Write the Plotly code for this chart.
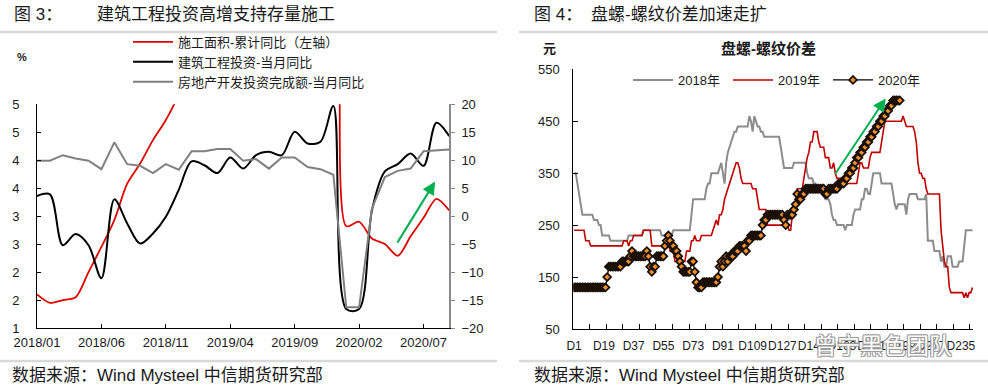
import plotly.graph_objects as go

W, H = 988, 390
def px(x): return x / W
def py(y): return 1 - y / H

CJK = "Liberation Sans, Noto Sans CJK SC"
TXT = "#1a1a1a"

# ---------------- Figure 3 data (monthly) ----------------
months = ["2018/01", "2018/02", "2018/03", "2018/04", "2018/05", "2018/06", "2018/07", "2018/08",
          "2018/09", "2018/10", "2018/11", "2018/12", "2019/01", "2019/02", "2019/03", "2019/04",
          "2019/05", "2019/06", "2019/07", "2019/08", "2019/09", "2019/10", "2019/11", "2019/12",
          "2020/01", "2020/02", "2020/03", "2020/04", "2020/05", "2020/06", "2020/07", "2020/08",
          "2020/09"]
month_ticks = ["2018/01", "2018/06", "2018/11", "2019/04", "2019/09", "2020/02", "2020/07"]

# 施工面积-累计同比 (left axis)
floor_area_cum = [1.60, 1.45, 1.50, 1.55, 2.00, 2.45, 2.93, 3.58, 3.94, 4.36, 4.72, 5.20,
                  6.80, 6.80, 8.20, 8.80, 8.80, 8.80, 9.00, 8.80, 8.70, 9.00, 8.70, 8.70,
                  2.82, 2.90, 2.60, 2.50, 2.29, 2.64, 2.97, 3.31, 3.10]
# 建筑工程投资-当月同比 (right axis)
construction_inv = [3.6, 3.9, -5.2, -3.2, -5.2, -11.1, 3.0, -1.3, -4.9, -3.1, -0.1, 4.7,
                    9.8, 9.1, 7.7, 10.5, 8.5, 10.9, 11.5, 10.9, 15.1, 13.0, 13.3, 19.7,
                    -16.6, -16.6, 1.1, 8.0, 9.3, 11.2, 9.0, 16.7, 14.3]
# 房地产开发投资完成额-当月同比 (right axis)
re_inv = [9.9, 9.9, 10.9, 10.3, 9.9, 8.4, 13.2, 9.3, 9.0, 7.7, 9.3, 8.3,
          11.6, 11.6, 12.0, 12.0, 9.9, 10.2, 8.5, 10.5, 10.5, 8.8, 8.4, 7.4,
          -16.3, -16.3, 1.4, 7.0, 8.1, 8.5, 11.6, 11.8, 11.9]

left_tickvals = [1, 1.5, 2, 2.5, 3, 3.5, 4, 4.5, 5]
left_ticktext = ["1", "2", "2", "3", "3", "4", "4", "5", "5"]

# ---------------- Figure 4 data (daily, 元) ----------------
spread_2018 = [
    350, 350, 330, 310, 290, 270, 270, 270, 270, 270, 270, 270, 260, 260, 260, 250, 250, 230, 230, 230,
    230, 230, 220, 220, 220, 220, 220, 220, 220, 220, 220, 220, 220, 230, 230, 230, 230, 230, 230, 230,
    230, 230, 240, 240, 240, 240, 240, 240, 240, 240, 240, 240, 240, 230, 230, 230, 230, 230, 230, 230,
    240, 240, 240, 240, 240, 240, 240, 240, 240, 240, 240, 270, 300, 300, 300, 300, 300, 300, 300, 300,
    320, 330, 330, 350, 350, 350, 350, 350, 360, 370, 350, 330, 370, 390, 400, 410, 420, 430, 430, 440,
    440, 440, 440, 440, 440, 440, 460, 450, 430, 460, 450, 440, 440, 430, 430, 420, 420, 420, 420, 420,
    420, 420, 420, 420, 420, 400, 380, 360, 360, 360, 360, 360, 360, 370, 370, 370, 370, 370, 370, 370,
    370, 350, 340, 340, 340, 330, 330, 320, 320, 320, 310, 310, 300, 300, 300, 290, 270, 260, 260, 250,
    250, 250, 250, 250, 240, 250, 250, 250, 250, 270, 280, 280, 280, 280, 300, 300, 320, 320, 310, 310,
    330, 350, 350, 350, 350, 350, 330, 330, 330, 330, 330, 330, 330, 310, 290, 280, 290, 290, 290, 290,
    290, 270, 300, 310, 310, 310, 310, 310, 300, 300, 300, 300, 300, 310, 220, 220, 220, 220, 200, 200,
    200, 200, 180, 190, 170, 170, 190, 190, 190, 170, 170, 170, 170, 180, 180, 180, 210, 240, 240, 240,
    240, 240]
spread_2019 = [
    240, 240, 240, 240, 240, 240, 240, 220, 220, 220, 210, 210, 210, 210, 210, 210, 210, 210, 210, 210,
    210, 210, 210, 210, 210, 210, 210, 210, 210, 210, 220, 220, 220, 210, 220, 220, 230, 230, 230, 230,
    230, 230, 240, 240, 240, 240, 240, 210, 210, 210, 210, 210, 210, 210, 210, 220, 220, 220, 200, 200,
    200, 180, 180, 180, 180, 180, 180, 180, 200, 200, 200, 220, 220, 230, 220, 220, 220, 230, 230, 230,
    230, 230, 230, 230, 240, 250, 260, 250, 270, 270, 280, 300, 310, 320, 330, 340, 350, 360, 370, 370,
    360, 340, 330, 330, 330, 330, 330, 330, 320, 320, 320, 300, 280, 280, 280, 280, 280, 250, 250, 250,
    250, 250, 250, 250, 250, 250, 250, 250, 250, 250, 240, 240, 270, 280, 290, 320, 320, 320, 320, 340,
    360, 380, 390, 410, 410, 430, 430, 430, 410, 400, 400, 400, 380, 380, 380, 360, 360, 370, 350, 340,
    340, 340, 340, 340, 330, 330, 330, 330, 330, 330, 330, 330, 350, 370, 370, 360, 360, 360, 360, 380,
    390, 390, 390, 390, 390, 390, 410, 430, 450, 450, 450, 450, 450, 450, 450, 450, 450, 450, 450, 460,
    450, 440, 440, 440, 440, 440, 430, 410, 370, 350, 350, 340, 340, 320, 310, 310, 310, 310, 310, 310,
    310, 310, 240, 210, 180, 170, 170, 130, 120, 120, 120, 120, 120, 120, 120, 120, 110, 120, 110, 120,
    120, 130]
spread_2020 = [
    130, 130, 130, 130, 130, 130, 130, 130, 130, 130, 130, 130, 130, 130, 130, 130, 130, 130, 130, 130,
    150, 170, 170, 170, 170, 170, 170, 170, 170, 180, 180, 180, 180, 180, 190, 200, 190, 190, 190, 190,
    190, 190, 190, 190, 200, 190, 170, 160, 170, 170, 190, 190, 190, 190, 190, 210, 220, 230, 220, 210,
    210, 200, 200, 190, 180, 170, 160, 160, 160, 160, 160, 180, 180, 160, 140, 130, 130, 130, 140, 140,
    140, 140, 140, 140, 140, 140, 140, 150, 170, 180, 170, 180, 190, 180, 190, 190, 190, 200, 200, 200,
    210, 210, 210, 210, 200, 220, 220, 230, 230, 230, 230, 230, 230, 230, 250, 260, 260, 270, 270, 270,
    270, 270, 270, 270, 270, 270, 270, 260, 250, 270, 270, 270, 270, 280, 290, 310, 300, 300, 310, 310,
    320, 320, 320, 320, 320, 320, 320, 320, 320, 320, 320, 320, 310, 310, 320, 320, 320, 320, 320, 320,
    330, 330, 330, 330, 340, 340, 350, 350, 360, 360, 370, 380, 380, 390, 390, 400, 400, 410, 410, 420,
    420, 430, 430, 440, 440, 450, 450, 460, 460, 470, 470, 480, 480, 490, 490, 490, 490, 490]
day_tickvals = [1, 19, 37, 55, 73, 91, 109, 127, 145, 163, 181, 199, 217, 235]
day_ticktext = ["D1", "D19", "D37", "D55", "D73", "D91", "D109", "D127", "D145", "D163",
                "D181", "D199", "D217", "D235"]

fig = go.Figure()

# ---- Figure 3 traces ----
fig.add_trace(go.Scatter(x=months, y=floor_area_cum, name="施工面积-累计同比（左轴）", mode="lines",
                         line=dict(color="#E00000", width=1.8, shape="spline", smoothing=0.8),
                         xaxis="x", yaxis="y", legend="legend", hoverinfo="skip"))
fig.add_trace(go.Scatter(x=months, y=construction_inv, name="建筑工程投资-当月同比", mode="lines",
                         line=dict(color="#000000", width=2, shape="spline", smoothing=0.9),
                         xaxis="x", yaxis="y2", legend="legend", hoverinfo="skip"))
fig.add_trace(go.Scatter(x=months, y=re_inv, name="房地产开发投资完成额-当月同比", mode="lines",
                         line=dict(color="#808080", width=2),
                         xaxis="x", yaxis="y2", legend="legend", hoverinfo="skip"))

# ---- Figure 4 traces ----
def days_of(s):
    return list(range(1, len(s) + 1))

fig.add_trace(go.Scatter(x=days_of(spread_2018), y=spread_2018, name="2018年", mode="lines",
                         line=dict(color="#8C8C8C", width=2),
                         xaxis="x2", yaxis="y3", legend="legend2", hoverinfo="skip"))
fig.add_trace(go.Scatter(x=days_of(spread_2019), y=spread_2019, name="2019年", mode="lines",
                         line=dict(color="#C00000", width=1.6),
                         xaxis="x2", yaxis="y3", legend="legend2", hoverinfo="skip"))
fig.add_trace(go.Scatter(x=days_of(spread_2020), y=spread_2020, name="2020年", mode="lines+markers",
                         line=dict(color="#000000", width=1.3),
                         marker=dict(symbol="diamond", size=6, color="#F0902A",
                                     line=dict(color="#1a1008", width=1.8)),
                         xaxis="x2", yaxis="y3", legend="legend2", hoverinfo="skip"))

axis_font = dict(family="Liberation Sans", size=13, color=TXT)

fig.update_layout(
    width=W, height=H, margin=dict(l=0, r=0, t=0, b=0, pad=0, autoexpand=False),
    paper_bgcolor="white", plot_bgcolor="white",
    showlegend=True,
    xaxis=dict(domain=[px(37), px(449.3)], anchor="y", type="category", range=[0, 32],
               tickvals=month_ticks, ticks="inside", ticklen=4, tickcolor="black",
               showline=True, linecolor="black", linewidth=1, showgrid=False, zeroline=False,
               tickfont=axis_font, ticklabelstandoff=2, automargin=False, tickangle=0),
    yaxis=dict(domain=[py(328), py(104.3)], anchor="x", range=[1, 5],
               tickvals=left_tickvals, ticktext=left_ticktext, ticks="inside", ticklen=4,
               tickcolor="black", showline=True, linecolor="black", linewidth=1,
               showgrid=False, zeroline=False, tickfont=axis_font, ticklabelstandoff=14,
               automargin=False),
    yaxis2=dict(overlaying="y", side="right", anchor="x", range=[-20, 20], tick0=-20, dtick=5,
                ticks="outside", ticklen=4, tickcolor="#8a8a8a", showline=True,
                linecolor="#8a8a8a", linewidth=1.5, showgrid=False, zeroline=False,
                tickfont=axis_font, ticklabelstandoff=4, automargin=False),
    xaxis2=dict(domain=[px(573.3), px(973.3)], anchor="y3", range=[0.5, 242.5],
                tickvals=day_tickvals, ticktext=day_ticktext, ticks="inside", ticklen=0,
                minor=dict(tick0=0.5, dtick=10, ticks="inside", ticklen=5, tickcolor="black"),
                showline=True, linecolor="black", linewidth=1, showgrid=False, zeroline=False,
                tickfont=dict(family="Liberation Sans", size=12, color=TXT), ticklabelstandoff=6,
                tickangle=0, automargin=False),
    yaxis3=dict(domain=[py(329), py(69.3)], anchor="x2", range=[50, 550], tick0=50, dtick=100,
                ticks="inside", ticklen=5, tickcolor="black", showline=True, linecolor="black",
                linewidth=1, showgrid=False, zeroline=False, tickfont=axis_font,
                ticklabelstandoff=10, automargin=False),
    legend=dict(x=px(128), y=py(27), xanchor="left", yanchor="top", orientation="v",
                font=dict(family=CJK, size=13, color=TXT), bgcolor="rgba(0,0,0,0)",
                tracegroupgap=0, itemwidth=40),
    legend2=dict(x=px(628), y=py(65), xanchor="left", yanchor="top", orientation="h",
                 font=dict(family=CJK, size=13, color=TXT), bgcolor="rgba(0,0,0,0)",
                 entrywidth=45, entrywidthmode="pixels", itemwidth=40),
)

anns = []
def text(x, y, s, size=13, color=TXT, xanchor="left", bold=False, family=CJK, **kw):
    anns.append(dict(x=px(x), y=py(y), xref="paper", yref="paper", text=(f"<b>{s}</b>" if bold else s),
                     showarrow=False, xanchor=xanchor, yanchor="middle",
                     font=dict(family=family, size=size, color=color), **kw))

text(12, 15, "图 3：", size=17)
text(95, 15, "建筑工程投资高增支持存量施工", size=17)
text(532, 15, "图 4：", size=17)
text(589, 15, "盘螺-螺纹价差加速走扩", size=17)
text(10, 375, "数据来源：Wind Mysteel 中信期货研究部", size=17)
text(532, 375, "数据来源：Wind Mysteel 中信期货研究部", size=17)
text(22, 57, "%", size=11, bold=True, xanchor="center")
text(549, 48, "元", size=13, bold=True, xanchor="center")
text(768, 48, "盘螺-螺纹价差", size=15, bold=True, xanchor="center")

# green arrows
anns.append(dict(xref="x", yref="y2", axref="x", ayref="y2", x=30.9, y=6.2, ax=27.9, ay=-5.0,
                 text="", showarrow=True, arrowhead=2, arrowsize=1.3, arrowwidth=2,
                 arrowcolor="#00B050", standoff=0))
anns.append(dict(xref="x2", yref="y3", axref="x2", ayref="y3", x=189.5, y=494, ax=158.4, ay=346,
                 text="", showarrow=True, arrowhead=2, arrowsize=1.3, arrowwidth=2,
                 arrowcolor="#00B050", standoff=0))

# watermark
anns.append(dict(x=px(883), y=py(344), xref="paper", yref="paper", text="曾宁黑色团队",
                 showarrow=False, xanchor="center", yanchor="middle",
                 font=dict(family="Noto Sans CJK SC", size=23, color="white",
                           shadow="1px 1px 0 #9a9a9a, -1px -1px 0 #9a9a9a, 1px -1px 0 #9a9a9a, -1px 1px 0 #9a9a9a")))

fig.update_layout(annotations=anns)

shapes = []
for (x0, x1, y) in [(0, 497, 32), (519, 988, 32), (0, 497, 361), (519, 988, 361)]:
    shapes.append(dict(type="line", xref="paper", yref="paper", x0=px(x0), x1=px(x1),
                       y0=py(y), y1=py(y), line=dict(color="#D9D9D9", width=2.5)))
fig.update_layout(shapes=shapes)

fig.write_html("out.html", config={"displayModeBar": False, "staticPlot": True},
               post_script="document.body.style.margin='0';document.body.style.padding='0';"
                           "document.body.style.overflow='hidden';")
